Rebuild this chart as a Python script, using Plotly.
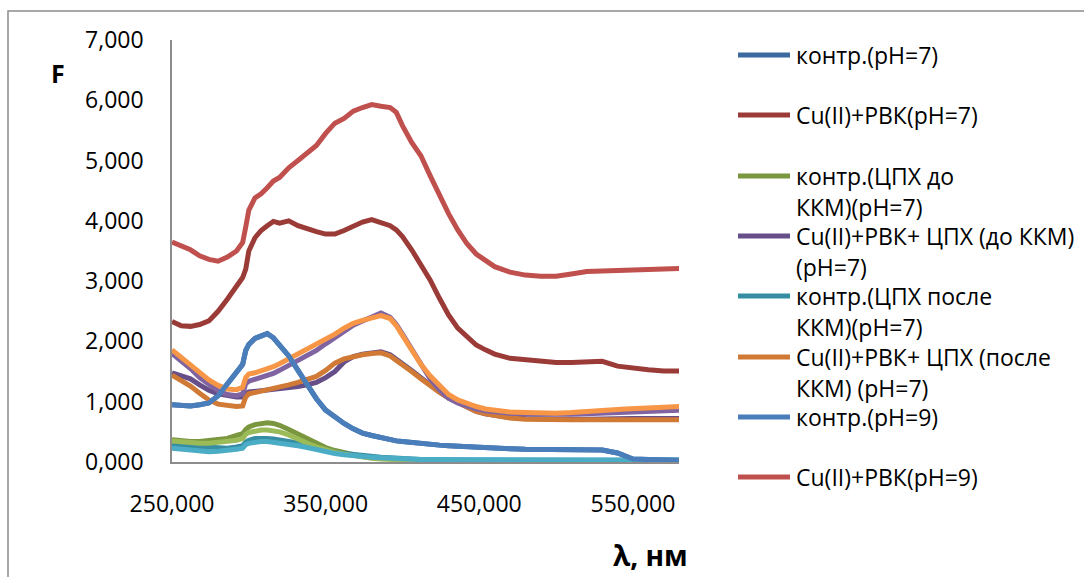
import plotly.graph_objects as go

# ---------------- data ----------------
WL = [250, 256, 262, 268, 274, 280, 286, 292, 296, 298, 300, 304, 308, 312, 316, 320,
      326, 332, 338, 344, 350, 356, 362, 368, 374, 380, 386, 392, 396, 400, 406, 412,
      418, 424, 430, 436, 442, 448, 454, 460, 470, 480, 490, 500, 510, 520, 530, 540,
      545, 550, 560, 570, 580]

control_ph7 = [0.95, 0.94, 0.93, 0.95, 0.98, 1.10, 1.30, 1.50, 1.62, 1.85, 1.95, 2.05, 2.10, 2.13, 2.06, 1.95,
               1.76, 1.52, 1.27, 1.05, 0.86, 0.74, 0.64, 0.55, 0.48, 0.44, 0.40, 0.37, 0.35, 0.34, 0.32, 0.30,
               0.29, 0.28, 0.27, 0.26, 0.25, 0.24, 0.23, 0.22, 0.22, 0.21, 0.21, 0.21, 0.21, 0.21, 0.20, 0.15,
               0.10, 0.05, 0.04, 0.03, 0.03]

cu_rvk_ph7 = [2.33, 2.26, 2.25, 2.28, 2.34, 2.50, 2.70, 2.91, 3.06, 3.20, 3.50, 3.72, 3.84, 3.92, 3.99, 3.96,
              4.00, 3.92, 3.86, 3.82, 3.78, 3.78, 3.84, 3.92, 3.98, 4.02, 3.97, 3.92, 3.85, 3.74, 3.52, 3.28,
              3.02, 2.72, 2.44, 2.22, 2.07, 1.94, 1.86, 1.79, 1.72, 1.69, 1.66, 1.65, 1.65, 1.67, 1.67, 1.59,
              1.57, 1.55, 1.53, 1.51, 1.51]

control_cpx_before = [0.37, 0.35, 0.34, 0.34, 0.35, 0.36, 0.39, 0.44, 0.47, 0.54, 0.58, 0.62, 0.64, 0.65, 0.64, 0.61,
                      0.54, 0.46, 0.38, 0.30, 0.24, 0.19, 0.15, 0.12, 0.09, 0.07, 0.06, 0.05, 0.04, 0.04, 0.03, 0.03,
                      0.02, 0.02, 0.02, 0.02, 0.02, 0.02, 0.02, 0.02, 0.02, 0.02, 0.02, 0.02, 0.02, 0.02, 0.02, 0.02,
                      0.02, 0.02, 0.02, 0.02, 0.02]

cu_rvk_cpx_before = [1.48, 1.44, 1.38, 1.28, 1.19, 1.13, 1.10, 1.08, 1.08, 1.14, 1.16, 1.17, 1.18, 1.19, 1.20, 1.21,
                     1.23, 1.25, 1.28, 1.32, 1.40, 1.50, 1.66, 1.75, 1.79, 1.81, 1.83, 1.78, 1.71, 1.64, 1.52, 1.40,
                     1.27, 1.16, 1.06, 0.98, 0.90, 0.84, 0.80, 0.77, 0.74, 0.72, 0.71, 0.71, 0.71, 0.71, 0.72, 0.72,
                     0.72, 0.72, 0.72, 0.72, 0.72]

control_cpx_after = [0.28, 0.27, 0.26, 0.25, 0.24, 0.23, 0.23, 0.25, 0.27, 0.33, 0.36, 0.39, 0.40, 0.39, 0.38, 0.37,
                     0.34, 0.31, 0.27, 0.23, 0.19, 0.16, 0.14, 0.12, 0.10, 0.09, 0.08, 0.07, 0.06, 0.06, 0.05, 0.04,
                     0.04, 0.03, 0.03, 0.03, 0.03, 0.03, 0.03, 0.03, 0.03, 0.03, 0.03, 0.03, 0.03, 0.03, 0.03, 0.03,
                     0.03, 0.03, 0.03, 0.03, 0.03]

cu_rvk_cpx_after = [1.44, 1.36, 1.26, 1.14, 1.03, 0.96, 0.93, 0.92, 0.93, 1.08, 1.13, 1.15, 1.17, 1.19, 1.21, 1.24,
                    1.28, 1.32, 1.36, 1.42, 1.52, 1.64, 1.71, 1.75, 1.78, 1.80, 1.81, 1.76, 1.69, 1.62, 1.50, 1.38,
                    1.26, 1.16, 1.07, 0.99, 0.91, 0.84, 0.80, 0.77, 0.73, 0.71, 0.70, 0.70, 0.70, 0.70, 0.70, 0.70,
                    0.70, 0.70, 0.70, 0.70, 0.70]

control_ph9 = [0.95, 0.94, 0.93, 0.95, 0.98, 1.10, 1.30, 1.50, 1.62, 1.85, 1.95, 2.05, 2.10, 2.13, 2.06, 1.95,
               1.76, 1.52, 1.27, 1.05, 0.86, 0.74, 0.64, 0.55, 0.48, 0.44, 0.40, 0.37, 0.35, 0.34, 0.32, 0.30,
               0.29, 0.28, 0.27, 0.26, 0.25, 0.24, 0.23, 0.22, 0.22, 0.21, 0.21, 0.21, 0.21, 0.21, 0.20, 0.15,
               0.10, 0.05, 0.04, 0.03, 0.03]

cu_rvk_ph9 = [3.65, 3.58, 3.52, 3.42, 3.36, 3.33, 3.40, 3.50, 3.64, 3.90, 4.18, 4.38, 4.45, 4.55, 4.66, 4.72,
              4.88, 5.00, 5.12, 5.25, 5.45, 5.62, 5.70, 5.82, 5.88, 5.93, 5.90, 5.88, 5.80, 5.58, 5.30, 5.08,
              4.75, 4.42, 4.12, 3.85, 3.62, 3.45, 3.34, 3.24, 3.15, 3.10, 3.08, 3.08, 3.12, 3.16, 3.17, 3.18,
              3.18, 3.19, 3.20, 3.21, 3.21]

# unlabelled series (present on the plot, absent from the legend)
extra_green = [0.35, 0.33, 0.32, 0.31, 0.31, 0.32, 0.33, 0.36, 0.39, 0.46, 0.49, 0.52, 0.53, 0.53, 0.52, 0.50,
               0.45, 0.37, 0.31, 0.25, 0.20, 0.16, 0.13, 0.10, 0.08, 0.06, 0.05, 0.04, 0.04, 0.03, 0.03, 0.03,
               0.02, 0.02, 0.02, 0.02, 0.02, 0.02, 0.02, 0.02, 0.02, 0.02, 0.02, 0.02, 0.02, 0.02, 0.02, 0.02,
               0.02, 0.02, 0.02, 0.02, 0.02]

extra_purple = [1.80, 1.68, 1.55, 1.40, 1.28, 1.18, 1.12, 1.10, 1.13, 1.30, 1.34, 1.37, 1.40, 1.43, 1.47, 1.52,
                1.60, 1.68, 1.76, 1.85, 1.96, 2.06, 2.18, 2.27, 2.34, 2.40, 2.47, 2.40, 2.28, 2.12, 1.86, 1.60,
                1.38, 1.20, 1.06, 0.98, 0.92, 0.88, 0.85, 0.83, 0.81, 0.80, 0.79, 0.79, 0.79, 0.80, 0.81, 0.82,
                0.83, 0.84, 0.85, 0.86, 0.86]

extra_cyan = [0.23, 0.21, 0.19, 0.18, 0.17, 0.18, 0.19, 0.21, 0.23, 0.29, 0.31, 0.33, 0.34, 0.34, 0.33, 0.32,
              0.29, 0.27, 0.24, 0.20, 0.17, 0.14, 0.12, 0.10, 0.09, 0.08, 0.07, 0.06, 0.06, 0.05, 0.05, 0.04,
              0.04, 0.04, 0.03, 0.03, 0.03, 0.03, 0.03, 0.03, 0.03, 0.03, 0.03, 0.03, 0.03, 0.03, 0.03, 0.03,
              0.03, 0.03, 0.03, 0.03, 0.03]

extra_orange = [1.86, 1.74, 1.62, 1.48, 1.36, 1.27, 1.21, 1.20, 1.24, 1.40, 1.46, 1.48, 1.51, 1.54, 1.58, 1.63,
                1.71, 1.78, 1.87, 1.95, 2.04, 2.12, 2.22, 2.30, 2.35, 2.39, 2.43, 2.38, 2.26, 2.10, 1.86, 1.62,
                1.43, 1.26, 1.12, 1.03, 0.97, 0.92, 0.88, 0.86, 0.83, 0.82, 0.81, 0.81, 0.82, 0.83, 0.85, 0.87,
                0.88, 0.89, 0.90, 0.91, 0.92]

X_TICKS = [250, 350, 450, 550]
Y_TICKS = [0, 1, 2, 3, 4, 5, 6, 7]

LEGEND_NAMES = [
    ["контр.(pH=7)"],
    ["Cu(II)+РВК(pH=7)"],
    ["контр.(ЦПХ до", "ККМ)(pH=7)"],
    ["Cu(II)+РВК+ ЦПХ (до ККМ)", "(pH=7)"],
    ["контр.(ЦПХ после", "ККМ)(pH=7)"],
    ["Cu(II)+РВК+ ЦПХ (после", "ККМ) (pH=7)"],
    ["контр.(pH=9)"],
    ["Cu(II)+РВК(pH=9)"],
]

# ---------------- styling ----------------
FONT = "Open Sans"
C_DBLUE, C_DRED, C_DGREEN, C_DPURPLE, C_DTEAL, C_BROWN = "#3C6AA0", "#9B3B38", "#7A963F", "#664E88", "#378EA3", "#D07A35"
C_BLUE, C_RED = "#4A7EBB", "#C0504D"
C_LGREEN, C_LPURPLE, C_LCYAN, C_LORANGE = "#9BBB59", "#8064A2", "#4BACC6", "#F79646"

W, H = 1084, 577
PL, PT, PR, PB = 172, 40, 679, 462
PW, PH = PR - PL, PB - PT


def fx(px):
    return (px - PL) / PW


def fy(py):
    return (PB - py) / PH


series = [
    (control_ph7, C_DBLUE, LEGEND_NAMES[0]),
    (cu_rvk_ph7, C_DRED, LEGEND_NAMES[1]),
    (control_cpx_before, C_DGREEN, LEGEND_NAMES[2]),
    (cu_rvk_cpx_before, C_DPURPLE, LEGEND_NAMES[3]),
    (control_cpx_after, C_DTEAL, LEGEND_NAMES[4]),
    (cu_rvk_cpx_after, C_BROWN, LEGEND_NAMES[5]),
    (extra_green, C_LGREEN, None),
    (extra_purple, C_LPURPLE, None),
    (extra_cyan, C_LCYAN, None),
    (extra_orange, C_LORANGE, None),
    (control_ph9, C_BLUE, LEGEND_NAMES[6]),
    (cu_rvk_ph9, C_RED, LEGEND_NAMES[7]),
]

fig = go.Figure()
for vals, col, name in series:
    fig.add_trace(go.Scatter(
        x=WL, y=vals, mode="lines",
        name=" ".join(name) if name else "",
        line=dict(color=col, width=5),
        showlegend=False, hoverinfo="skip",
    ))

shapes = []
annotations = []

# outer chart-area border (cropped by the picture on the right and bottom)
shapes.append(dict(type="rect", xref="paper", yref="paper",
                   x0=fx(8), y0=fy(11), x1=fx(1110), y1=fy(620),
                   line=dict(color="#8C8C8C", width=1.5), layer="below"))

# manual legend (Excel style: swatch aligned with first line)
LEG_ROWS = [55, 115, 176, 236, 296, 357, 417, 477]
legend_colors = [C_DBLUE, C_DRED, C_DGREEN, C_DPURPLE, C_DTEAL, C_BROWN, C_BLUE, C_RED]
for yrow, lines, col in zip(LEG_ROWS, LEGEND_NAMES, legend_colors):
    shapes.append(dict(type="line", xref="paper", yref="paper",
                       x0=fx(738), x1=fx(790), y0=fy(yrow), y1=fy(yrow),
                       line=dict(color=col, width=5)))
    for k, txt in enumerate(lines):
        annotations.append(dict(xref="paper", yref="paper", x=fx(794), y=fy(yrow + 31 * k),
                                xanchor="left", yanchor="middle", showarrow=False,
                                text=txt, font=dict(family=FONT, size=23, color="#000000")))

annotations.append(dict(xref="paper", yref="paper", x=fx(58), y=fy(73),
                        xanchor="center", yanchor="middle", showarrow=False,
                        text="<b>F</b>", font=dict(family=FONT, size=25, color="#000000")))
annotations.append(dict(xref="paper", yref="paper", x=fx(650), y=fy(555),
                        xanchor="center", yanchor="middle", showarrow=False,
                        text="<b>λ, нм</b>", font=dict(family=FONT, size=28, color="#000000")))

fig.update_layout(
    width=W, height=H,
    margin=dict(l=PL, r=W - PR, t=PT, b=H - PB, autoexpand=False),
    paper_bgcolor="white", plot_bgcolor="white",
    separators=", ",
    showlegend=False,
    shapes=shapes, annotations=annotations,
    font=dict(family=FONT, color="#000000"),
)
fig.update_xaxes(range=[250, 580], tickvals=X_TICKS, tickformat=".3f",
                 showline=True, linecolor="#8C8C8C", linewidth=1.5, mirror=False,
                 showgrid=False, zeroline=False, ticks="", ticklabelstandoff=21,
                 tickfont=dict(family=FONT, size=23, color="#000000"))
fig.update_yaxes(range=[0, 7], tickvals=Y_TICKS, tickformat=".3f",
                 showline=True, linecolor="#8C8C8C", linewidth=1.5,
                 showgrid=False, zeroline=False, ticks="", ticklabelstandoff=22,
                 tickfont=dict(family=FONT, size=23, color="#000000"))

fig.write_html("out.html")
